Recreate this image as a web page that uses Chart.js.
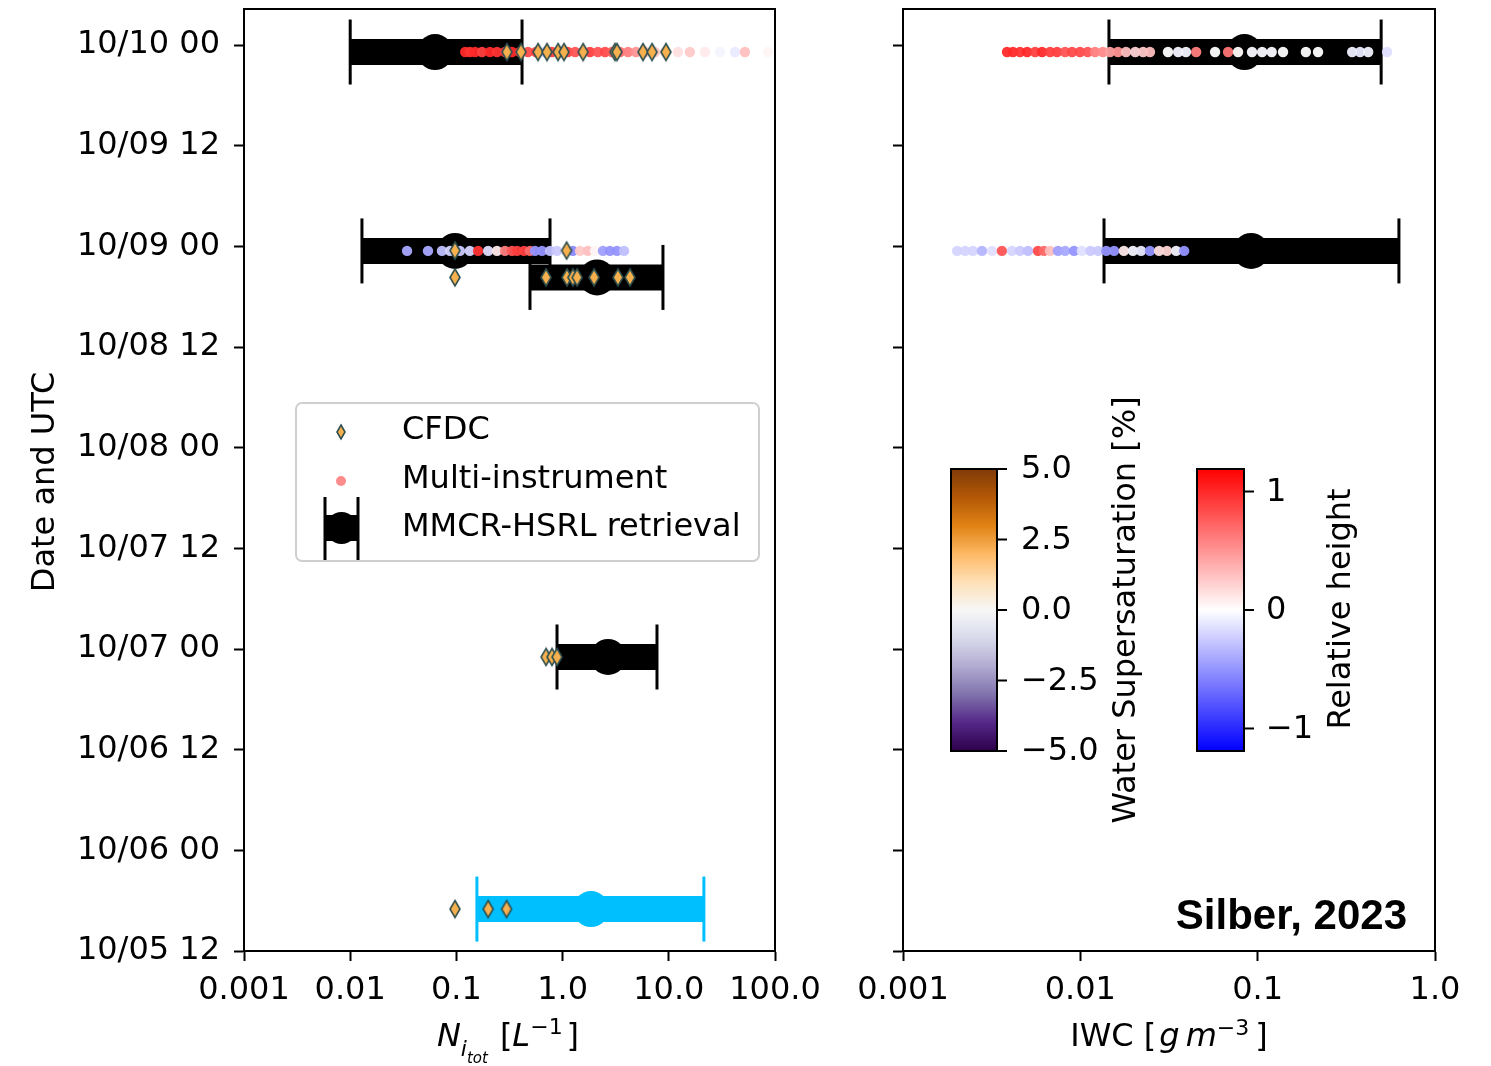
<!DOCTYPE html>
<html>
<head>
<meta charset="utf-8">
<script src="https://cdn.jsdelivr.net/npm/chart.js"></script>
<style>
html, body { margin: 0; padding: 0; background: #ffffff; }
#wrap { position: relative; width: 1491px; height: 1066px; }
#wrap canvas { position: absolute; left: 0; top: 0; }
</style>
</head>
<body>
<div id="wrap">
  <canvas id="cNi" width="1491" height="1066"></canvas>
  <canvas id="cIwc" width="1491" height="1066"></canvas>
</div>
<script>
// ---------------- DATA ----------------
// y axis: hours since 10/05 12 UTC
const yTickLabels = ['10/05 12', '10/06 00', '10/06 12', '10/07 00', '10/07 12',
                     '10/08 00', '10/08 12', '10/09 00', '10/09 12', '10/10 00'];
const yTickHours = [0, 12, 24, 36, 48, 60, 72, 84, 96, 108];
const yMin = 0, yMax = 112.3;

const niTickValues = [0.001, 0.01, 0.1, 1, 10, 100];
const niTickLabels = ['0.001', '0.01', '0.1', '1.0', '10.0', '100.0'];
const iwcTickValues = [0.001, 0.01, 0.1, 1];
const iwcTickLabels = ['0.001', '0.01', '0.1', '1.0'];

// MMCR-HSRL retrieval of N_i (left panel)
const retNiHours  = [107.17, 83.46, 80.3, 35.05, 5.0];
const retNiMedian = [0.063, 0.097, 2.11, 2.68, 1.85];
const retNiLow    = [0.0100, 0.0129, 0.493, 0.886, 0.156];
const retNiHigh   = [0.415, 0.761, 8.81, 7.74, 21.4];

// MMCR-HSRL retrieval of IWC (right panel)
const retIwcHours  = [107.17, 83.46];
const retIwcMedian = [0.0842, 0.0918];
const retIwcLow    = [0.0145, 0.0136];
const retIwcHigh   = [0.497, 0.626];

// CFDC
const cfdcHours = [107.17, 107.17, 107.17, 107.17, 107.17, 107.17, 107.17, 107.17, 107.17, 107.17, 107.17, 107.17,
                   83.5, 83.5,
                   80.3, 80.3, 80.3, 80.3, 80.3, 80.3, 80.3, 80.3,
                   35.05, 35.05, 35.05,
                   5.0, 5.0, 5.0];
const cfdcNi = [0.299, 0.406, 0.587, 0.713, 0.906, 1.03, 1.56, 3.11, 3.25, 5.71, 6.95, 9.41,
                0.097, 1.09,
                0.097, 0.698, 1.10, 1.25, 1.37, 1.98, 3.32, 4.31,
                0.698, 0.794, 0.886,
                0.097, 0.199, 0.297];

// Multi-instrument, N_i, 10/10 event
const miNiHourA = 107.17;
const miNiA = [0.121, 0.134, 0.150, 0.174, 0.207, 0.241, 0.287, 0.334, 0.397, 0.472, 0.562, 0.683, 0.794, 0.945,
               1.12, 1.31, 1.56, 1.81, 2.15, 2.51, 2.92, 3.47, 4.13, 4.91, 5.97, 7.41, 9.21, 12.2, 15.8, 21.9,
               30.3, 42.0, 52.1, 64.8, 85.9];
const miRhNiA = [1.0, 0.95, 1.0, 0.9, 1.0, 0.95, 0.9, 1.0, 0.9, 0.85, 0.9, -0.3, 0.9, 0.85,
                 0.9, 0.8, 0.85, 0.9, 0.8, 0.85, 0.75, 0.7, 0.6, 0.5, 0.35, 0.25, 0.2, 0.15, 0.25, 0.1,
                 -0.05, -0.1, 0.3, 0.0, 0.05];
// Multi-instrument, N_i, 10/09 event
const miNiHourB = 83.46;
const miNiB = [0.0343, 0.0540, 0.0731, 0.0871, 0.108, 0.134, 0.160, 0.199, 0.241, 0.287, 0.334, 0.372, 0.433,
               0.493, 0.550, 0.640, 0.761, 0.886, 1.08, 1.25, 1.46, 1.73, 2.02, 2.40, 2.79, 3.25, 3.79];
const miRhNiB = [-0.4, -0.4, -0.3, -0.2, -0.25, -0.2, 0.95, -0.15, 0.1, 0.6, 0.8, 0.9, 0.9,
                 0.7, -0.5, -0.5, -0.3, -0.25, -0.1, -0.55, 0.25, 0.3, 0.05, -0.45, -0.5, -0.5, -0.3];
// Multi-instrument, IWC, 10/10 event
const miIwcHourA = 107.17;
const miIwcA = [0.00386, 0.00417, 0.00457, 0.00501, 0.00556, 0.00608, 0.00675, 0.00739, 0.00820, 0.00898,
                0.00996, 0.0110, 0.0121, 0.0134, 0.0147, 0.0163, 0.0181, 0.0204, 0.0226, 0.0247,
                0.0312, 0.0356, 0.0394, 0.0450, 0.0575, 0.0681, 0.0775, 0.0929, 0.106, 0.120,
                0.139, 0.187, 0.219, 0.341, 0.378, 0.420, 0.537];
const miRhIwcA = [1.0, 1.0, 0.95, 1.0, 0.9, 1.0, 0.9, 0.9, 0.8, 0.85,
                  0.85, 0.8, 0.6, 0.55, 0.45, 0.5, 0.3, 0.2, 0.25, 0.3,
                  0.0, -0.05, -0.05, 0.6, 0.0, 0.65, 0.02, -0.03, -0.03, -0.03,
                  0.0, 0.0, 0.0, -0.08, -0.1, -0.06, -0.15];
// Multi-instrument, IWC, 10/09 event
const miIwcHourB = 83.46;
const miIwcB = [0.00202, 0.00224, 0.00248, 0.00279, 0.00318, 0.00361, 0.00412, 0.00457, 0.00507, 0.00577,
                0.00624, 0.00675, 0.00748, 0.00820, 0.00921, 0.0102, 0.0114, 0.0126, 0.0140, 0.0155,
                0.0176, 0.0198, 0.0220, 0.0247, 0.0278, 0.0308, 0.0347, 0.0385];
const miRhIwcB = [-0.2, -0.2, -0.2, -0.35, -0.15, 0.8, -0.2, -0.25, -0.3, 0.85,
                  0.7, 0.3, -0.45, -0.4, -0.5, -0.15, -0.25, -0.25, -0.5, -0.5,
                  0.1, -0.05, -0.1, -0.5, 0.15, 0.2, -0.05, -0.5];

// colorbar ranges and ticks
const supersatRange = [-5, 5];
const supersatTicks = [5, 2.5, 0, -2.5, -5];
const supersatTickLabels = ['5.0', '2.5', '0.0', '\u22122.5', '\u22125.0'];
const relHeightRange = [-1.19, 1.19];
const relHeightTicks = [1, 0, -1];
const relHeightTickLabels = ['1', '0', '\u22121'];

// ---------------- STYLE ----------------
const FONT = "'DejaVu Sans', 'Liberation Sans', sans-serif";
const FS = 32;
const retrievalColors = ['#000000', '#000000', '#000000', '#000000', '#00bfff'];
const puorR = ['#7f3b08', '#b35806', '#e08214', '#fdb863', '#fee0b6', '#f7f7f7',
               '#d8daeb', '#b2abd2', '#8073ac', '#542788', '#2d004b'];
const dotAlpha = 0.95;

function bwr(v, alpha) {
  const t = Math.min(1, Math.max(0, (v - relHeightRange[0]) / (relHeightRange[1] - relHeightRange[0])));
  let r, g, b;
  if (t < 0.5) { r = g = Math.round(510 * t); b = 255; }
  else { r = 255; g = b = Math.round(510 * (1 - t)); }
  return 'rgba(' + r + ',' + g + ',' + b + ',' + alpha + ')';
}

function makeDiamond(w, h) {
  const lw = 1.6;
  const c = document.createElement('canvas');
  c.width = Math.ceil(w + 2 * lw); c.height = Math.ceil(h + 2 * lw);
  const g = c.getContext('2d');
  const cx = c.width / 2, cy = c.height / 2;
  g.beginPath();
  g.moveTo(cx, cy - h / 2); g.lineTo(cx + w / 2, cy); g.lineTo(cx, cy + h / 2); g.lineTo(cx - w / 2, cy);
  g.closePath();
  g.fillStyle = '#f6b04e'; g.fill();
  g.lineWidth = lw; g.strokeStyle = '#2f4f4f'; g.stroke();
  return c;
}
const diamondImg = makeDiamond(10, 17);
const diamondLegendImg = makeDiamond(8, 14);

function retrievalDatasets(hours, med, lo, hi) {
  const ds = [];
  for (let i = 0; i < hours.length; i++) {
    const c = retrievalColors[i];
    ds.push({ data: [{ x: lo[i], y: hours[i] }, { x: hi[i], y: hours[i] }], showLine: true,
      borderColor: c, borderWidth: 26, borderCapStyle: 'butt', pointRadius: 0, order: 4 });
    ds.push({ data: [{ x: lo[i], y: hours[i] }, { x: hi[i], y: hours[i] }], showLine: false,
      pointStyle: 'line', pointRotation: 90, pointRadius: 32.5, pointBorderWidth: 3,
      pointBorderColor: c, pointBackgroundColor: c, order: 3 });
    ds.push({ data: [{ x: med[i], y: hours[i] }], showLine: false, pointRadius: 18,
      pointBackgroundColor: c, pointBorderWidth: 0, order: 2 });
  }
  return ds;
}
function dotDataset(vals, rh, hour) {
  return { data: vals.map(v => ({ x: v, y: hour })), showLine: false, pointRadius: 5.2,
    pointBorderWidth: 0, pointBackgroundColor: rh.map(r => bwr(r, dotAlpha)), order: 1 };
}

function xScale(min, max, tickVals, tickLabels) {
  return {
    type: 'logarithmic', position: 'bottom', min: min, max: max,
    afterBuildTicks: s => { s.ticks = tickVals.map(v => ({ value: v })); },
    afterFit: s => { s.height = 115; s.paddingLeft = 0; s.paddingRight = 0; },
    ticks: { callback: (v, i) => tickLabels[i], font: { family: FONT, size: FS }, color: '#000',
      padding: 10, maxRotation: 0, autoSkip: false },
    grid: { drawOnChartArea: false, drawTicks: true, tickLength: 10, tickWidth: 2, tickColor: '#000' },
    border: { display: true, color: '#000', width: 2 }
  };
}
function yScale(width, showLabels) {
  return {
    type: 'linear', position: 'left', min: yMin, max: yMax,
    afterBuildTicks: s => { s.ticks = yTickHours.map(v => ({ value: v })); },
    afterFit: s => { s.width = width; s.paddingTop = 0; s.paddingBottom = 0; },
    ticks: { callback: (v, i) => showLabels ? yTickLabels[i] : '', font: { family: FONT, size: FS },
      color: '#000', padding: 14, autoSkip: false },
    grid: { drawOnChartArea: false, drawTicks: true, tickLength: 10, tickWidth: 2, tickColor: '#000' },
    border: { display: true, color: '#000', width: 2 }
  };
}

const framePlugin = {
  id: 'frame',
  afterDraw(chart) {
    const a = chart.chartArea, ctx = chart.ctx;
    ctx.save(); ctx.lineWidth = 2; ctx.strokeStyle = '#000';
    ctx.strokeRect(a.left, a.top, a.right - a.left, a.bottom - a.top);
    ctx.restore();
  }
};

function drawRuns(ctx, runs, cx, baseY) {
  let total = 0;
  runs.forEach(r => {
    ctx.font = (r.it ? 'oblique ' : '') + (r.s || FS) + 'px ' + FONT;
    r.w = ctx.measureText(r.t).width; total += r.w + (r.gap || 0);
  });
  let x = cx - total / 2;
  ctx.textAlign = 'left'; ctx.textBaseline = 'alphabetic';
  runs.forEach(r => {
    ctx.font = (r.it ? 'oblique ' : '') + (r.s || FS) + 'px ' + FONT;
    ctx.fillText(r.t, x, baseY + (r.dy || 0)); x += r.w + (r.gap || 0);
  });
}

function vtext(ctx, txt, x, y, size) {
  ctx.save(); ctx.translate(x, y); ctx.rotate(-Math.PI / 2);
  ctx.font = size + 'px ' + FONT; ctx.textAlign = 'center'; ctx.textBaseline = 'alphabetic';
  ctx.fillText(txt, 0, 0); ctx.restore();
}

const niDecor = {
  id: 'niDecor',
  afterDraw(chart) {
    const ctx = chart.ctx;
    ctx.save();
    ctx.fillStyle = '#000';
    vtext(ctx, 'Date and UTC', 54, 482, FS);
    drawRuns(ctx, [
      { t: 'N', it: 1 }, { t: 'i', it: 1, s: 22, dy: 10 }, { t: 'tot', it: 1, s: 15, dy: 17, gap: 12 },
      { t: '[' }, { t: 'L', it: 1 }, { t: '\u22121', s: 22, dy: -12, gap: 4 }, { t: ']' }
    ], 508, 1046);
    // legend
    ctx.beginPath();
    ctx.roundRect(296, 403, 463, 158, 6);
    ctx.fillStyle = 'rgba(255,255,255,0.85)'; ctx.fill();
    ctx.lineWidth = 2; ctx.strokeStyle = '#cfcfcf'; ctx.stroke();
    ctx.drawImage(diamondLegendImg, 341 - diamondLegendImg.width / 2, 432 - diamondLegendImg.height / 2);
    ctx.beginPath(); ctx.arc(341, 481, 5, 0, Math.PI * 2); ctx.fillStyle = '#ff8c8c'; ctx.fill();
    ctx.fillStyle = '#000';
    ctx.fillRect(325, 515, 33, 26);
    ctx.beginPath(); ctx.arc(341.5, 528, 16, 0, Math.PI * 2); ctx.fill();
    ctx.lineWidth = 3; ctx.strokeStyle = '#000';
    ctx.beginPath(); ctx.moveTo(325, 497); ctx.lineTo(325, 560); ctx.moveTo(358, 497); ctx.lineTo(358, 560); ctx.stroke();
    ctx.font = FS + 'px ' + FONT; ctx.textAlign = 'left'; ctx.textBaseline = 'middle';
    ctx.fillText('CFDC', 402, 431);
    ctx.fillText('Multi-instrument', 402, 480);
    ctx.fillText('MMCR-HSRL retrieval', 402, 528);
    ctx.restore();
  }
};

function colorbar(ctx, x, y, w, h, stops, range, ticks, labels, labelX) {
  const g = ctx.createLinearGradient(0, y, 0, y + h);
  stops.forEach((c, i) => g.addColorStop(i / (stops.length - 1), c));
  ctx.fillStyle = g; ctx.fillRect(x, y, w, h);
  ctx.lineWidth = 2; ctx.strokeStyle = '#000'; ctx.strokeRect(x, y, w, h);
  ctx.fillStyle = '#000'; ctx.font = FS + 'px ' + FONT; ctx.textAlign = 'left'; ctx.textBaseline = 'middle';
  ticks.forEach((v, i) => {
    const ty = y + (range[1] - v) / (range[1] - range[0]) * h;
    ctx.beginPath(); ctx.moveTo(x + w, ty); ctx.lineTo(x + w + 10, ty); ctx.stroke();
    ctx.fillText(labels[i], labelX, ty + 1);
  });
}

const iwcDecor = {
  id: 'iwcDecor',
  afterDraw(chart) {
    const ctx = chart.ctx;
    ctx.save();
    ctx.fillStyle = '#000';
    drawRuns(ctx, [
      { t: 'IWC ' }, { t: '[', gap: 3 }, { t: 'g', it: 1, gap: 6 }, { t: 'm', it: 1 },
      { t: '\u22123', s: 22, dy: -11, gap: 6 }, { t: ']' }
    ], 1169, 1046);
    colorbar(ctx, 951, 469, 46, 282, puorR, supersatRange, supersatTicks, supersatTickLabels, 1021);
    colorbar(ctx, 1197, 469, 47, 282, ['#ff0000', '#ffffff', '#0000ff'], relHeightRange, relHeightTicks, relHeightTickLabels, 1266);
    ctx.fillStyle = '#000';
    vtext(ctx, 'Water Supersaturation [%]', 1135, 610, FS);
    vtext(ctx, 'Relative height', 1350, 609, FS);
    ctx.font = "bold 42px 'Liberation Sans', Arial, sans-serif";
    ctx.textAlign = 'right'; ctx.textBaseline = 'alphabetic';
    ctx.fillText('Silber, 2023', 1407, 929);
    ctx.restore();
  }
};

// ---------------- CHARTS ----------------
const commonOpts = {
  responsive: false, animation: false, devicePixelRatio: 1, events: [],
  plugins: { legend: { display: false }, tooltip: { enabled: false } }
};

const niDatasets = retrievalDatasets(retNiHours, retNiMedian, retNiLow, retNiHigh)
  .concat([
    dotDataset(miNiA, miRhNiA, miNiHourA),
    dotDataset(miNiB, miRhNiB, miNiHourB),
    { data: cfdcNi.map((v, i) => ({ x: v, y: cfdcHours[i] })), showLine: false,
      pointStyle: diamondImg, pointRadius: 8, order: 0 }
  ]);

new Chart(document.getElementById('cNi'), {
  type: 'scatter',
  data: { datasets: niDatasets },
  options: Object.assign({}, commonOpts, {
    layout: { autoPadding: false, padding: { left: 0, top: 9, right: 716, bottom: 0 } },
    scales: { x: xScale(0.001, 100, niTickValues, niTickLabels), y: yScale(244, true) }
  }),
  plugins: [framePlugin, niDecor]
});

const iwcDatasets = retrievalDatasets(retIwcHours, retIwcMedian, retIwcLow, retIwcHigh)
  .concat([
    dotDataset(miIwcA, miRhIwcA, miIwcHourA),
    dotDataset(miIwcB, miRhIwcB, miIwcHourB)
  ]);

new Chart(document.getElementById('cIwc'), {
  type: 'scatter',
  data: { datasets: iwcDatasets },
  options: Object.assign({}, commonOpts, {
    layout: { autoPadding: false, padding: { left: 800, top: 9, right: 56, bottom: 0 } },
    scales: { x: xScale(0.001, 1, iwcTickValues, iwcTickLabels), y: yScale(103, false) }
  }),
  plugins: [framePlugin, iwcDecor]
});
</script>
</body>
</html>
